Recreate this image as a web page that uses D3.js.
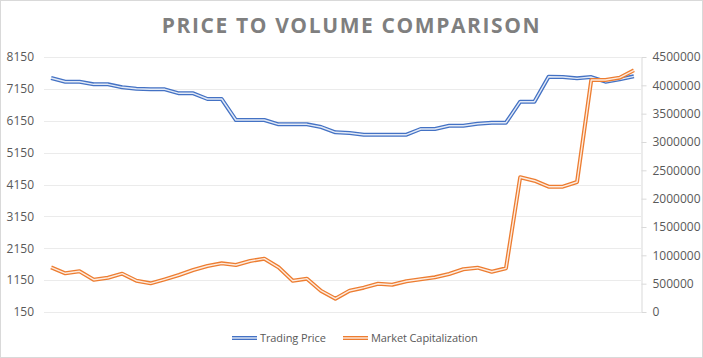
<!doctype html>
<html>
  <head>
    <meta charset="utf8">
    <script src="https://d3js.org/d3.v7.min.js"></script>
    <style type="text/css">
      body { margin: 0; background: #fff; font-family: 'Open Sans', sans-serif; }
      svg text { fill: #595959; }
    </style>
  </head>
  <body>
    <script type="text/javascript">
      const w = 703;
      const h = 358;
      const plotLeft = 44, plotRight = 641, plotTop = 57, plotBottom = 312;

      const periods = d3.range(1, 43);

      const tradingPrice = [
        7490, 7375, 7375, 7293, 7293, 7199, 7155, 7136, 7136, 7011,
        7011, 6832, 6832, 6173, 6173, 6173, 6038, 6038, 6038, 5953,
        5787, 5765, 5712, 5712, 5712, 5712, 5891, 5891, 5994, 5994,
        6057, 6088, 6088, 6747, 6747, 7531, 7521, 7481, 7521, 7375,
        7450, 7544
      ];

      const marketCap = [
        789000, 683000, 718000, 570000, 605000, 676000, 552000, 506000, 577000, 653000,
        741000, 812000, 859000, 829000, 900000, 941000, 789000, 552000, 588000, 371000,
        235000, 376000, 429000, 499000, 482000, 542000, 577000, 612000, 671000, 754000,
        782000, 711000, 771000, 2377000, 2317000, 2211000, 2211000, 2294000, 4094000, 4094000,
        4135000, 4265000
      ];

      const leftTicks = d3.range(150, 8151, 1000);
      const rightTicks = d3.range(0, 4500001, 500000);

      const xScale = d3.scalePoint()
        .domain(periods)
        .range([plotLeft, plotRight])
        .padding(0.5);

      const yLeft = d3.scaleLinear()
        .domain([150, 8150])
        .range([plotBottom, plotTop]);

      const yRight = d3.scaleLinear()
        .domain([0, 4500000])
        .range([plotBottom, plotTop]);

      const svg = d3.select('body')
        .append('svg')
        .attr('width', w)
        .attr('height', h);

      svg.append('rect')
        .attr('x', 0.5).attr('y', 0.5)
        .attr('width', w - 1).attr('height', h - 1)
        .attr('fill', '#fff')
        .attr('stroke', '#d9d9d9');

      svg.append('text')
        .attr('x', w / 2)
        .attr('y', 33)
        .attr('text-anchor', 'middle')
        .attr('font-size', '21px')
        .attr('font-weight', 'bold')
        .attr('letter-spacing', '1.6px')
        .style('fill', '#7f7f7f')
        .text('PRICE TO VOLUME COMPARISON');

      // gridlines
      svg.append('g')
        .selectAll('line')
        .data(leftTicks)
        .enter()
        .append('line')
        .attr('x1', plotLeft)
        .attr('x2', plotRight)
        .attr('y1', (d) => Math.round(yLeft(d)) + 0.5)
        .attr('y2', (d) => Math.round(yLeft(d)) + 0.5)
        .attr('stroke', '#ebebeb');

      const leftAxis = svg.append('g')
        .attr('transform', `translate(${plotLeft},0)`)
        .call(d3.axisLeft(yLeft).tickValues(leftTicks).tickSize(0).tickPadding(10).tickFormat(d3.format('d')));
      leftAxis.select('.domain').remove();

      const rightAxis = svg.append('g')
        .attr('transform', `translate(${plotRight + 0.5},0)`)
        .call(d3.axisRight(yRight).tickValues(rightTicks).tickSizeInner(5).tickSizeOuter(0).tickPadding(6).tickFormat(d3.format('d')));
      rightAxis.select('.domain').attr('stroke', '#d9d9d9');
      rightAxis.selectAll('.tick line').attr('stroke', '#d9d9d9');

      svg.selectAll('.tick text')
        .attr('font-family', "'Open Sans', sans-serif")
        .attr('font-size', '12px')
        .style('fill', '#595959');

      // double-stroke lines
      function doubleLine(values, yScale, color) {
        const line = d3.line()
          .x((d, i) => xScale(periods[i]))
          .y((d) => yScale(d));
        svg.append('path')
          .datum(values)
          .attr('d', line)
          .attr('fill', 'none')
          .attr('stroke', color)
          .attr('stroke-width', 4)
          .attr('stroke-linejoin', 'round');
        svg.append('path')
          .datum(values)
          .attr('d', line)
          .attr('fill', 'none')
          .attr('stroke', '#fff')
          .attr('stroke-opacity', 0.85)
          .attr('stroke-width', 1.4)
          .attr('stroke-linejoin', 'round');
      }

      doubleLine(tradingPrice, yLeft, '#4472c4');
      doubleLine(marketCap, yRight, '#ed7d31');

      // legend
      const legend = [
        { name: 'Trading Price', color: '#4472c4', x: 232 },
        { name: 'Market Capitalization', color: '#ed7d31', x: 343 }
      ];

      const lg = svg.append('g').selectAll('g')
        .data(legend)
        .enter()
        .append('g')
        .attr('transform', (d) => `translate(${d.x},338)`);

      lg.append('line')
        .attr('x1', 0).attr('x2', 25)
        .attr('stroke', (d) => d.color)
        .attr('stroke-width', 4);
      lg.append('line')
        .attr('x1', 0).attr('x2', 25)
        .attr('stroke', '#fff')
        .attr('stroke-opacity', 0.85)
        .attr('stroke-width', 1.4);
      lg.append('text')
        .attr('x', 28)
        .attr('y', 4)
        .attr('font-size', '11px')
        .attr('letter-spacing', '-0.1px')
        .text((d) => d.name);
    </script>
  </body>
</html>
